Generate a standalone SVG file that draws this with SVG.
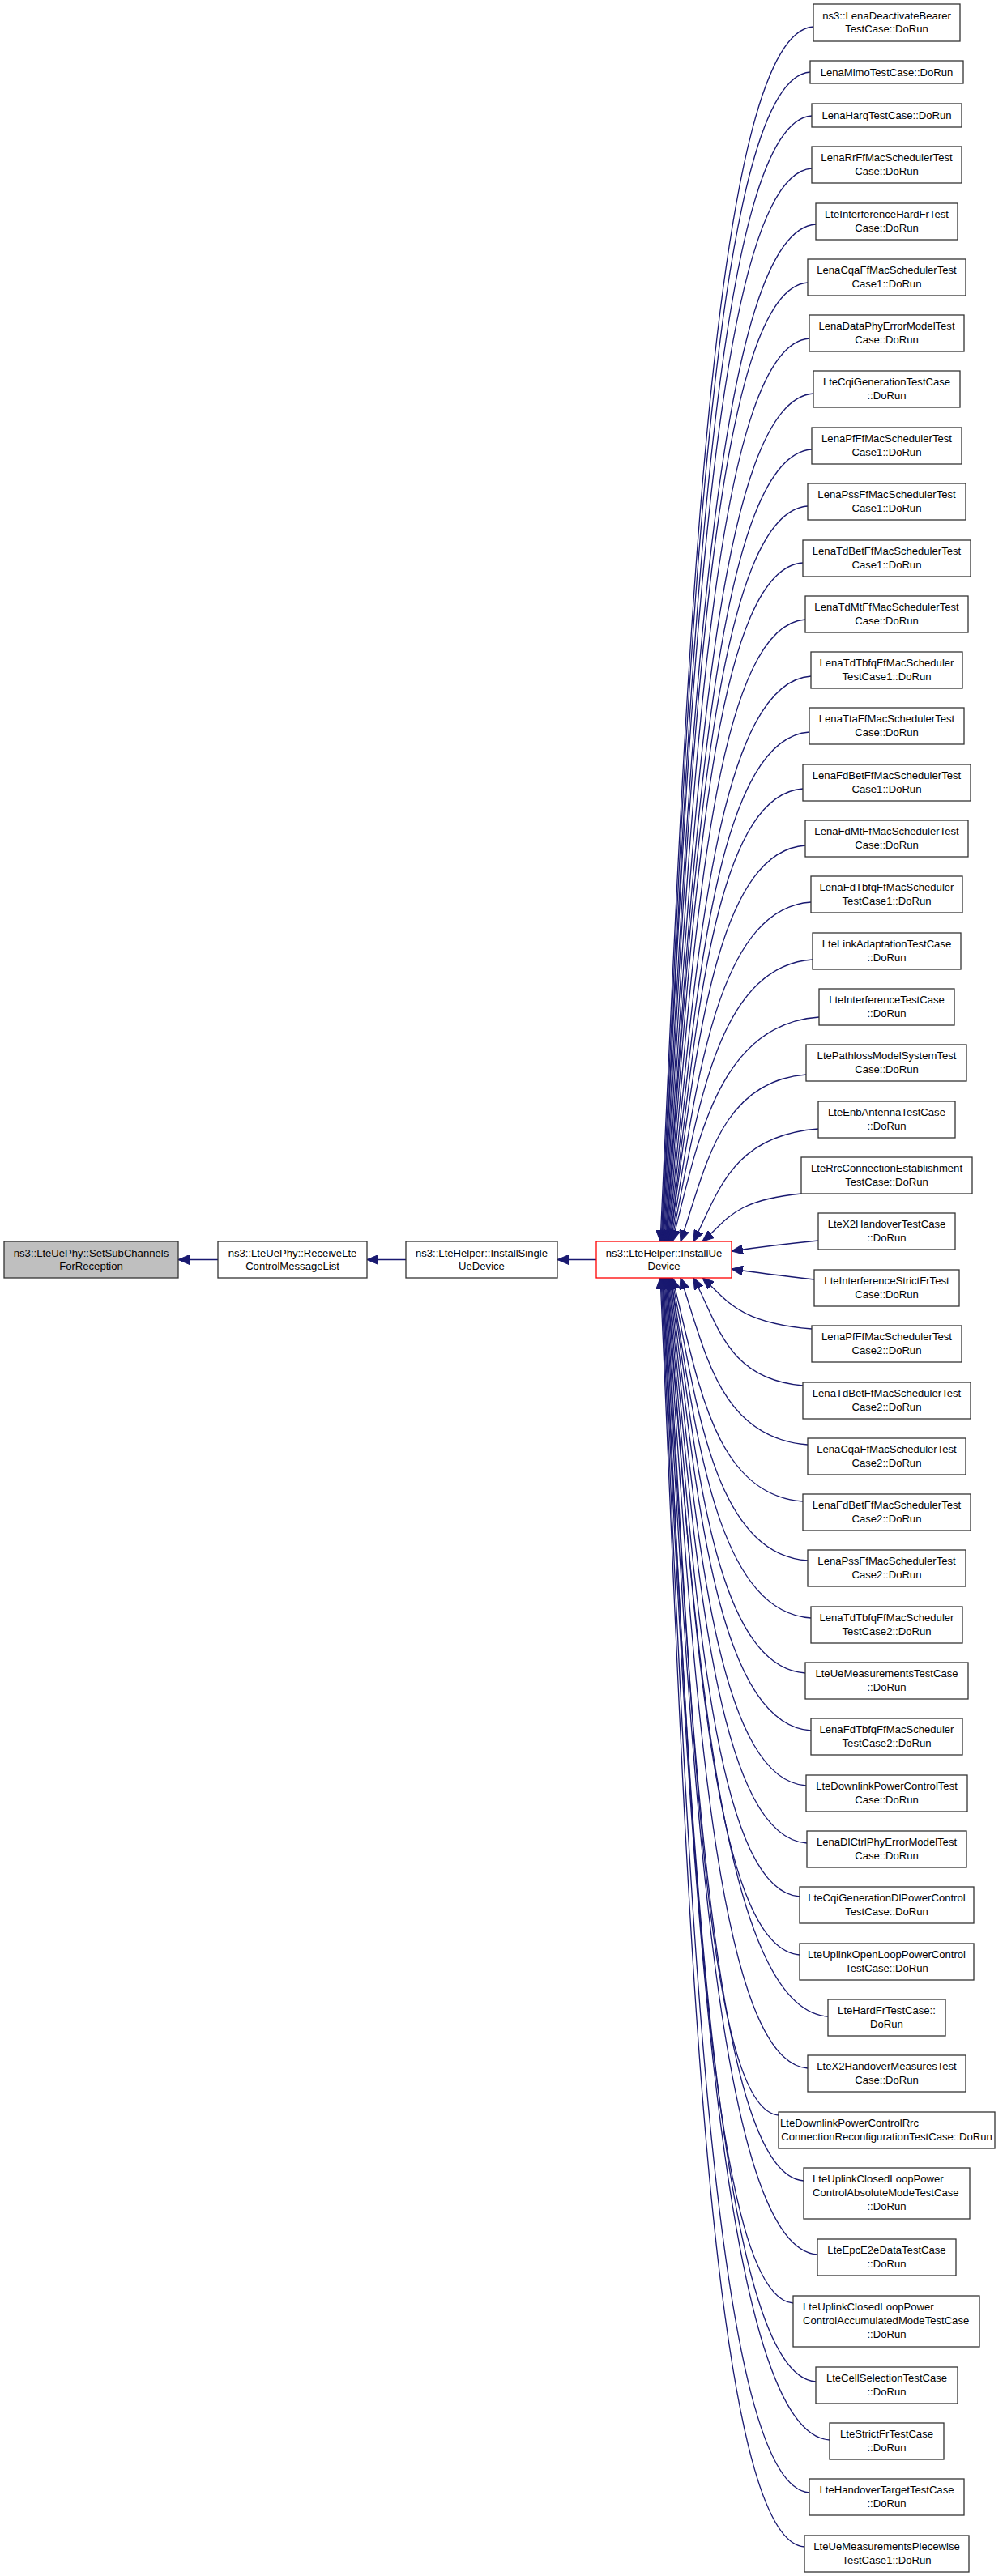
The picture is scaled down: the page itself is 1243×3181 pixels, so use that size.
<svg xmlns="http://www.w3.org/2000/svg" width="1243" height="3181" viewBox="0 0 1243 3181">
<defs>
<style>
.n rect{fill:#ffffff;stroke:#333333;stroke-width:1.3}
.g rect{fill:#bfbfbf}
.r rect{stroke:#ff0000}
text{font-family:"Liberation Sans",Arial,Helvetica,sans-serif;font-size:13.1px;fill:#000000}
.c{text-anchor:middle}
.e path{fill:none;stroke:#191970;stroke-width:1.3;marker-end:url(#ah)}
</style>
<marker id="ah" markerUnits="userSpaceOnUse" viewBox="0 0 14 12" markerWidth="14" markerHeight="12" refX="14" refY="6" orient="auto">
<path d="M0,0 L14,6 L0,12 z" fill="#191970" stroke="#191970" stroke-width="1"/>
</marker>
</defs>
<rect x="0" y="0" width="1243" height="3181" fill="#ffffff"/>
<g id="edges" class="e">
<path d="M736,1555.5 L688,1555.5"/>
<path d="M501,1555.5 L453,1555.5"/>
<path d="M269,1555.5 L220,1555.5"/>
<path d="M1004,33 C872,41 845,903 815,1533"/>
<path d="M1000,89 C871,97 846,927 816,1533"/>
<path d="M1002,143 C872,151 847,949 817,1533"/>
<path d="M1002,208 C872,216 847,977 817,1533"/>
<path d="M1007,277 C875,285 848,1006 818,1533"/>
<path d="M997,349 C872,357 849,1036 819,1533"/>
<path d="M999,418 C874,426 850,1065 820,1533"/>
<path d="M1004,486 C876,494 851,1093 821,1533"/>
<path d="M1002,555 C876,563 852,1122 822,1533"/>
<path d="M997,625 C875,633 852,1152 822,1533"/>
<path d="M991,695 C873,703 853,1181 823,1533"/>
<path d="M994,765 C875,773 854,1210 824,1533"/>
<path d="M1001,835 C878,843 855,1240 825,1533"/>
<path d="M999,904 C878,912 856,1269 826,1533"/>
<path d="M991,974 C876,982 857,1298 827,1533"/>
<path d="M994,1044 C877,1052 857,1328 827,1533"/>
<path d="M1001,1114 C880,1122 858,1357 828,1533"/>
<path d="M1003,1185 C881,1193 859,1387 829,1533"/>
<path d="M1011,1256 C884,1264 860,1417 830,1533"/>
<path d="M995,1327 C887,1335 870,1447 840,1533"/>
<path d="M1010,1394 C902,1402 886,1475 856,1533"/>
<path d="M989,1474 C904,1482 897,1508 867,1533"/>
<path d="M1010,1532 C970,1536 930,1541 903,1545"/>
<path d="M1005,1580 C970,1576 930,1571 903,1567"/>
<path d="M1002,1641 C908,1633 897,1604 867,1578"/>
<path d="M991,1711 C897,1703 886,1634 856,1578"/>
<path d="M997,1784 C887,1776 870,1665 840,1578"/>
<path d="M991,1854 C878,1846 860,1694 830,1578"/>
<path d="M997,1927 C879,1919 859,1725 829,1578"/>
<path d="M1001,1998 C880,1990 858,1754 828,1578"/>
<path d="M994,2066 C878,2058 858,1783 828,1578"/>
<path d="M1001,2137 C879,2129 857,1813 827,1578"/>
<path d="M995,2205 C877,2197 856,1841 826,1578"/>
<path d="M996,2276 C876,2268 855,1871 825,1578"/>
<path d="M987,2342 C873,2334 854,1899 824,1578"/>
<path d="M987,2414 C872,2406 853,1929 823,1578"/>
<path d="M1022,2490 C883,2482 853,1961 823,1578"/>
<path d="M997,2554 C875,2546 852,1988 822,1578"/>
<path d="M961,2612 C863,2604 851,2012 821,1578"/>
<path d="M992,2693 C872,2685 850,2046 820,1578"/>
<path d="M1009,2784 C876,2776 849,2085 819,1578"/>
<path d="M979,2844 C866,2836 848,2110 818,1578"/>
<path d="M1007,2941 C875,2933 848,2150 818,1578"/>
<path d="M1024,3013 C879,3005 847,2181 817,1578"/>
<path d="M999,3078 C871,3070 846,2208 816,1578"/>
<path d="M993,3145 C868,3137 845,2236 815,1578"/>
</g>
<g id="nA" class="n g"><rect x="5" y="1533" width="215" height="45"/><text class="c" x="112.5" y="1551.5">ns3::LteUePhy::SetSubChannels</text><text class="c" x="112.5" y="1568.3">ForReception</text></g>
<g id="nB" class="n"><rect x="269" y="1533" width="184" height="45"/><text class="c" x="361" y="1551.5">ns3::LteUePhy::ReceiveLte</text><text class="c" x="361" y="1568.3">ControlMessageList</text></g>
<g id="nC" class="n"><rect x="501" y="1533" width="187" height="45"/><text class="c" x="594.5" y="1551.5">ns3::LteHelper::InstallSingle</text><text class="c" x="594.5" y="1568.3">UeDevice</text></g>
<g id="nD" class="n r"><rect x="736" y="1533" width="167" height="45"/><text class="c" x="819.5" y="1551.5">ns3::LteHelper::InstallUe</text><text class="c" x="819.5" y="1568.3">Device</text></g>
<g id="n1" class="n"><rect x="1004" y="5" width="181" height="46"/><text class="c" x="1094.5" y="23.5">ns3::LenaDeactivateBearer</text><text class="c" x="1094.5" y="40.3">TestCase::DoRun</text></g>
<g id="n2" class="n"><rect x="1000" y="75" width="189" height="28"/><text class="c" x="1094.5" y="93.7">LenaMimoTestCase::DoRun</text></g>
<g id="n3" class="n"><rect x="1002" y="128" width="185" height="29"/><text class="c" x="1094.5" y="147.2">LenaHarqTestCase::DoRun</text></g>
<g id="n4" class="n"><rect x="1002" y="181" width="185" height="45"/><text class="c" x="1094.5" y="199">LenaRrFfMacSchedulerTest</text><text class="c" x="1094.5" y="215.8">Case::DoRun</text></g>
<g id="n5" class="n"><rect x="1007" y="251" width="175" height="45"/><text class="c" x="1094.5" y="269">LteInterferenceHardFrTest</text><text class="c" x="1094.5" y="285.8">Case::DoRun</text></g>
<g id="n6" class="n"><rect x="997" y="320" width="195" height="45"/><text class="c" x="1094.5" y="338">LenaCqaFfMacSchedulerTest</text><text class="c" x="1094.5" y="354.8">Case1::DoRun</text></g>
<g id="n7" class="n"><rect x="999" y="389" width="191" height="45"/><text class="c" x="1094.5" y="407">LenaDataPhyErrorModelTest</text><text class="c" x="1094.5" y="423.8">Case::DoRun</text></g>
<g id="n8" class="n"><rect x="1004" y="458" width="181" height="45"/><text class="c" x="1094.5" y="476">LteCqiGenerationTestCase</text><text class="c" x="1094.5" y="492.8">::DoRun</text></g>
<g id="n9" class="n"><rect x="1002" y="528" width="185" height="45"/><text class="c" x="1094.5" y="546">LenaPfFfMacSchedulerTest</text><text class="c" x="1094.5" y="562.8">Case1::DoRun</text></g>
<g id="n10" class="n"><rect x="997" y="597" width="195" height="45"/><text class="c" x="1094.5" y="615">LenaPssFfMacSchedulerTest</text><text class="c" x="1094.5" y="631.8">Case1::DoRun</text></g>
<g id="n11" class="n"><rect x="991" y="667" width="207" height="45"/><text class="c" x="1094.5" y="685">LenaTdBetFfMacSchedulerTest</text><text class="c" x="1094.5" y="701.8">Case1::DoRun</text></g>
<g id="n12" class="n"><rect x="994" y="736" width="201" height="45"/><text class="c" x="1094.5" y="754">LenaTdMtFfMacSchedulerTest</text><text class="c" x="1094.5" y="770.8">Case::DoRun</text></g>
<g id="n13" class="n"><rect x="1001" y="805" width="187" height="45"/><text class="c" x="1094.5" y="823">LenaTdTbfqFfMacScheduler</text><text class="c" x="1094.5" y="839.8">TestCase1::DoRun</text></g>
<g id="n14" class="n"><rect x="999" y="874" width="191" height="45"/><text class="c" x="1094.5" y="892">LenaTtaFfMacSchedulerTest</text><text class="c" x="1094.5" y="908.8">Case::DoRun</text></g>
<g id="n15" class="n"><rect x="991" y="944" width="207" height="45"/><text class="c" x="1094.5" y="962">LenaFdBetFfMacSchedulerTest</text><text class="c" x="1094.5" y="978.8">Case1::DoRun</text></g>
<g id="n16" class="n"><rect x="994" y="1013" width="201" height="45"/><text class="c" x="1094.5" y="1031">LenaFdMtFfMacSchedulerTest</text><text class="c" x="1094.5" y="1047.8">Case::DoRun</text></g>
<g id="n17" class="n"><rect x="1001" y="1082" width="187" height="45"/><text class="c" x="1094.5" y="1100">LenaFdTbfqFfMacScheduler</text><text class="c" x="1094.5" y="1116.8">TestCase1::DoRun</text></g>
<g id="n18" class="n"><rect x="1003" y="1152" width="183" height="45"/><text class="c" x="1094.5" y="1170">LteLinkAdaptationTestCase</text><text class="c" x="1094.5" y="1186.8">::DoRun</text></g>
<g id="n19" class="n"><rect x="1011" y="1221" width="167" height="45"/><text class="c" x="1094.5" y="1239">LteInterferenceTestCase</text><text class="c" x="1094.5" y="1255.8">::DoRun</text></g>
<g id="n20" class="n"><rect x="995" y="1290" width="198" height="45"/><text class="c" x="1094.5" y="1308">LtePathlossModelSystemTest</text><text class="c" x="1094.5" y="1324.8">Case::DoRun</text></g>
<g id="n21" class="n"><rect x="1010" y="1360" width="169" height="45"/><text class="c" x="1094.5" y="1378">LteEnbAntennaTestCase</text><text class="c" x="1094.5" y="1394.8">::DoRun</text></g>
<g id="n22" class="n"><rect x="989" y="1429" width="211" height="45"/><text class="c" x="1094.5" y="1447">LteRrcConnectionEstablishment</text><text class="c" x="1094.5" y="1463.8">TestCase::DoRun</text></g>
<g id="n23" class="n"><rect x="1010" y="1498" width="169" height="45"/><text class="c" x="1094.5" y="1516">LteX2HandoverTestCase</text><text class="c" x="1094.5" y="1532.8">::DoRun</text></g>
<g id="n24" class="n"><rect x="1005" y="1568" width="179" height="45"/><text class="c" x="1094.5" y="1586">LteInterferenceStrictFrTest</text><text class="c" x="1094.5" y="1602.8">Case::DoRun</text></g>
<g id="n25" class="n"><rect x="1002" y="1637" width="185" height="45"/><text class="c" x="1094.5" y="1655">LenaPfFfMacSchedulerTest</text><text class="c" x="1094.5" y="1671.8">Case2::DoRun</text></g>
<g id="n26" class="n"><rect x="991" y="1707" width="207" height="45"/><text class="c" x="1094.5" y="1725">LenaTdBetFfMacSchedulerTest</text><text class="c" x="1094.5" y="1741.8">Case2::DoRun</text></g>
<g id="n27" class="n"><rect x="997" y="1776" width="195" height="45"/><text class="c" x="1094.5" y="1794">LenaCqaFfMacSchedulerTest</text><text class="c" x="1094.5" y="1810.8">Case2::DoRun</text></g>
<g id="n28" class="n"><rect x="991" y="1845" width="207" height="45"/><text class="c" x="1094.5" y="1863">LenaFdBetFfMacSchedulerTest</text><text class="c" x="1094.5" y="1879.8">Case2::DoRun</text></g>
<g id="n29" class="n"><rect x="997" y="1914" width="195" height="45"/><text class="c" x="1094.5" y="1932">LenaPssFfMacSchedulerTest</text><text class="c" x="1094.5" y="1948.8">Case2::DoRun</text></g>
<g id="n30" class="n"><rect x="1001" y="1984" width="187" height="45"/><text class="c" x="1094.5" y="2002">LenaTdTbfqFfMacScheduler</text><text class="c" x="1094.5" y="2018.8">TestCase2::DoRun</text></g>
<g id="n31" class="n"><rect x="994" y="2053" width="201" height="45"/><text class="c" x="1094.5" y="2071">LteUeMeasurementsTestCase</text><text class="c" x="1094.5" y="2087.8">::DoRun</text></g>
<g id="n32" class="n"><rect x="1001" y="2122" width="187" height="45"/><text class="c" x="1094.5" y="2140">LenaFdTbfqFfMacScheduler</text><text class="c" x="1094.5" y="2156.8">TestCase2::DoRun</text></g>
<g id="n33" class="n"><rect x="995" y="2192" width="199" height="45"/><text class="c" x="1094.5" y="2210">LteDownlinkPowerControlTest</text><text class="c" x="1094.5" y="2226.8">Case::DoRun</text></g>
<g id="n34" class="n"><rect x="996" y="2261" width="197" height="45"/><text class="c" x="1094.5" y="2279">LenaDlCtrlPhyErrorModelTest</text><text class="c" x="1094.5" y="2295.8">Case::DoRun</text></g>
<g id="n35" class="n"><rect x="987" y="2330" width="215" height="45"/><text class="c" x="1094.5" y="2348">LteCqiGenerationDlPowerControl</text><text class="c" x="1094.5" y="2364.8">TestCase::DoRun</text></g>
<g id="n36" class="n"><rect x="987" y="2400" width="215" height="45"/><text class="c" x="1094.5" y="2418">LteUplinkOpenLoopPowerControl</text><text class="c" x="1094.5" y="2434.8">TestCase::DoRun</text></g>
<g id="n37" class="n"><rect x="1022" y="2469" width="145" height="45"/><text class="c" x="1094.5" y="2487">LteHardFrTestCase::</text><text class="c" x="1094.5" y="2503.8">DoRun</text></g>
<g id="n38" class="n"><rect x="997" y="2538" width="195" height="45"/><text class="c" x="1094.5" y="2556">LteX2HandoverMeasuresTest</text><text class="c" x="1094.5" y="2572.8">Case::DoRun</text></g>
<g id="n39" class="n"><rect x="961" y="2608" width="267" height="45"/><text x="963" y="2626">LteDownlinkPowerControlRrc</text><text class="c" x="1094.5" y="2642.8">ConnectionReconfigurationTestCase::DoRun</text></g>
<g id="n40" class="n"><rect x="992" y="2677" width="205" height="63"/><text x="1003" y="2695">LteUplinkClosedLoopPower</text><text x="1003" y="2712">ControlAbsoluteModeTestCase</text><text class="c" x="1094.5" y="2729">::DoRun</text></g>
<g id="n41" class="n"><rect x="1009" y="2765" width="171" height="45"/><text class="c" x="1094.5" y="2783">LteEpcE2eDataTestCase</text><text class="c" x="1094.5" y="2799.8">::DoRun</text></g>
<g id="n42" class="n"><rect x="979" y="2835" width="230" height="63"/><text x="991" y="2853">LteUplinkClosedLoopPower</text><text x="991" y="2870">ControlAccumulatedModeTestCase</text><text class="c" x="1094.5" y="2887">::DoRun</text></g>
<g id="n43" class="n"><rect x="1007" y="2923" width="175" height="45"/><text class="c" x="1094.5" y="2941">LteCellSelectionTestCase</text><text class="c" x="1094.5" y="2957.8">::DoRun</text></g>
<g id="n44" class="n"><rect x="1024" y="2992" width="141" height="45"/><text class="c" x="1094.5" y="3010">LteStrictFrTestCase</text><text class="c" x="1094.5" y="3026.8">::DoRun</text></g>
<g id="n45" class="n"><rect x="999" y="3061" width="191" height="45"/><text class="c" x="1094.5" y="3079">LteHandoverTargetTestCase</text><text class="c" x="1094.5" y="3095.8">::DoRun</text></g>
<g id="n46" class="n"><rect x="993" y="3131" width="203" height="45"/><text class="c" x="1094.5" y="3149">LteUeMeasurementsPiecewise</text><text class="c" x="1094.5" y="3165.8">TestCase1::DoRun</text></g>
</svg>
